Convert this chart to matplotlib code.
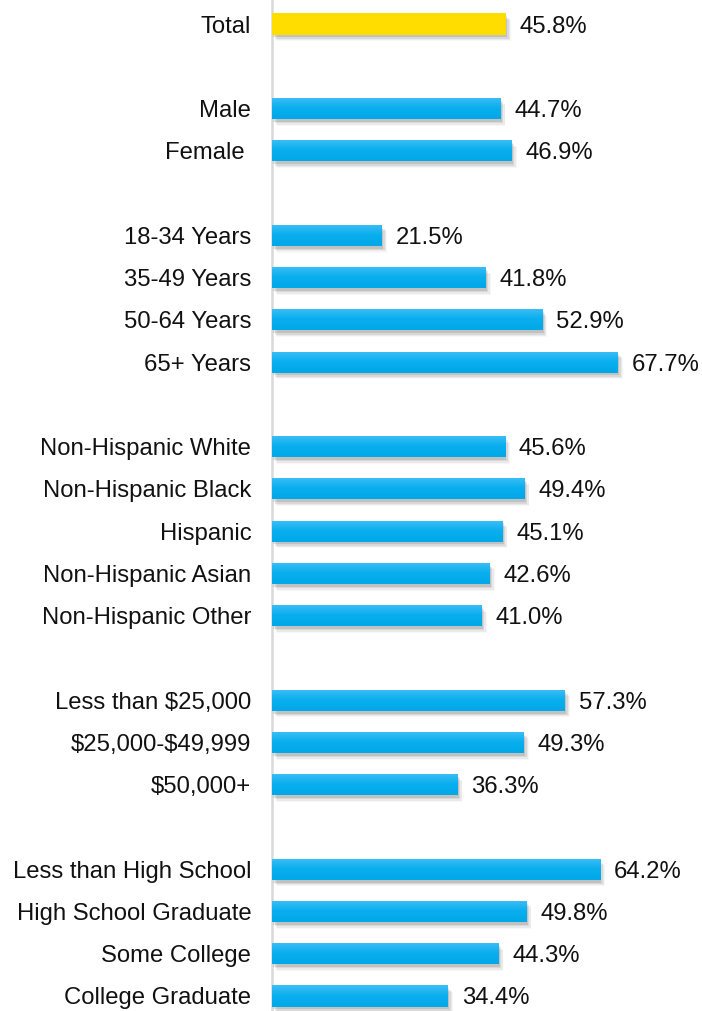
import matplotlib
matplotlib.use("Agg")
import matplotlib.pyplot as plt
import matplotlib.patheffects as pe
from matplotlib.colors import LinearSegmentedColormap
import numpy as np

categories = ["Total", "", "Male", "Female ", "",
              "18-34 Years", "35-49 Years", "50-64 Years", "65+ Years", "",
              "Non-Hispanic White", "Non-Hispanic Black", "Hispanic",
              "Non-Hispanic Asian", "Non-Hispanic Other", "",
              "Less than $25,000", "$25,000-$49,999", "$50,000+", "",
              "Less than High School", "High School Graduate", "Some College",
              "College Graduate"]
values = [45.8, None, 44.7, 46.9, None,
          21.5, 41.8, 52.9, 67.7, None,
          45.6, 49.4, 45.1, 42.6, 41.0, None,
          57.3, 49.3, 36.3, None,
          64.2, 49.8, 44.3, 34.4]

plt.rcParams['font.family'] = ['Liberation Sans', 'DejaVu Sans']
plt.rcParams['text.parse_math'] = False

fig = plt.figure(figsize=(7.02, 10.11), dpi=100)
ax = fig.add_axes([272/702, 0, 1 - 272/702, 1])

ypos = np.arange(len(categories))
bar_y = [y for y, v in zip(ypos, values) if v is not None]
bar_v = [v for v in values if v is not None]
bar_c = ["#FFDD00" if categories[int(y)] == "Total" else "#0FB0F0" for y in bar_y]

shadow = [pe.SimplePatchShadow(offset=(1.0, -2.0), shadow_rgbFace='k', alpha=0.10),
          pe.SimplePatchShadow(offset=(2.0, -3.0), shadow_rgbFace='k', alpha=0.08),
          pe.SimplePatchShadow(offset=(3.0, -4.0), shadow_rgbFace='k', alpha=0.05),
          pe.SimplePatchShadow(offset=(3.6, -4.8), shadow_rgbFace='k', alpha=0.03),
          pe.Normal()]
bars = ax.barh(bar_y, bar_v, height=0.5, color=bar_c, left=0, zorder=2)
for b in bars:
    b.set_path_effects(shadow)

cmap = LinearSegmentedColormap.from_list("g", ["#3DBEF6", "#09AEEE", "#00A8E8"])
for b, c in zip(bars, bar_c):
    if c == "#FFDD00":
        continue
    x0, y0 = b.get_x(), b.get_y()
    w, h = b.get_width(), b.get_height()
    grad = np.linspace(0, 1, 50).reshape(-1, 1)
    im = ax.imshow(grad, extent=(x0, x0 + w, y0 + h, y0), aspect='auto',
                   cmap=cmap, zorder=3, interpolation='bilinear')
    im.set_clip_path(b)

for b, v in zip(bars, bar_v):
    ax.annotate(f"{v:.1f}%", xy=(b.get_width(), b.get_y() + b.get_height() / 2),
                xytext=(10, 0), textcoords='offset points', va='center_baseline',
                ha='left', fontsize=17.2, color='#111111')

ax.set_xlim(0, (702 - 272) / 5.11)
ax.set_ylim(23 + 15 / 42.26, -24 / 42.26)
ax.set_yticks(ypos)
ax.set_yticklabels(categories, fontsize=17.2, color='#111111')
ax.tick_params(axis='y', length=0, pad=15)
ax.set_xticks([])
for s in ['top', 'right', 'bottom']:
    ax.spines[s].set_visible(False)
ax.spines['left'].set_color('#D9D9D9')
ax.spines['left'].set_linewidth(1.8)
ax.spines['left'].set_zorder(1)

fig.savefig("out.png", dpi=100)
